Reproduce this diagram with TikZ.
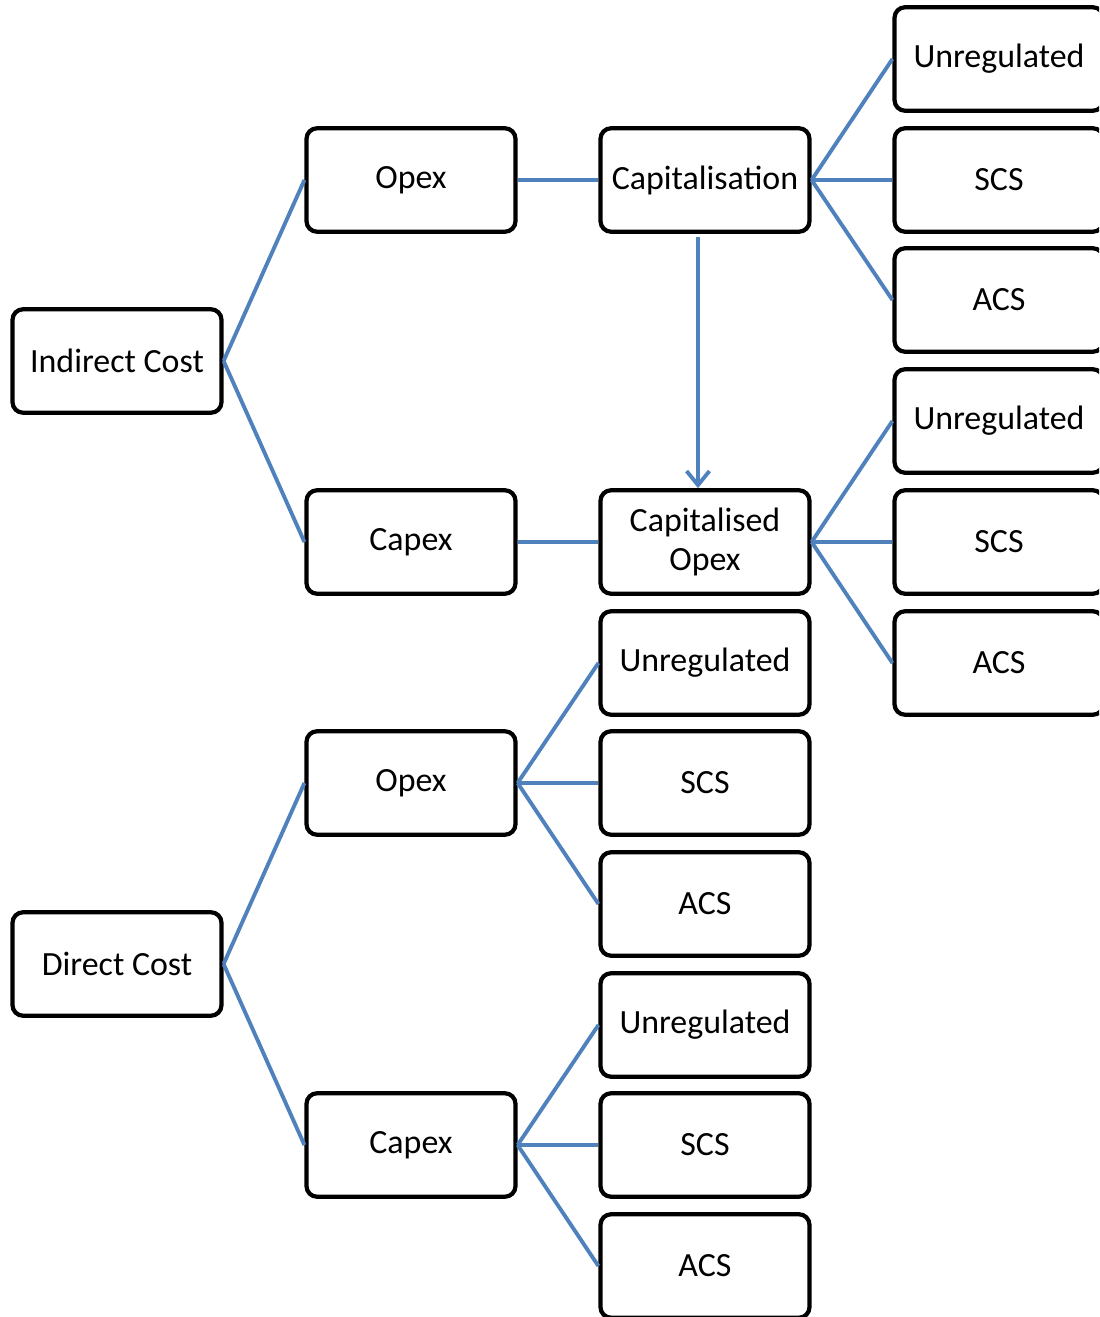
\documentclass[tikz,border=0pt]{standalone}
\usepackage{fontspec}
\setmainfont{Carlito}
\usetikzlibrary{arrows.meta}
\definecolor{link}{RGB}{79,129,189}
\begin{document}
\begin{tikzpicture}[x=0.02cm,y=-0.02cm,
  box/.style={draw=black,line width=2.4pt,rounded corners=6pt,fill=white,
    minimum width=4.18cm,minimum height=2.07cm,inner sep=0pt,align=center,
    font=\fontsize{19.3}{21.8}\selectfont},
  wire/.style={draw=link,line width=2.2pt}]
\useasboundingbox (0,0) rectangle (1099,1317);
\clip (0,0) rectangle (1099,1317);

% left column
\node[box] (ind) at (117,361) {Indirect Cost};
\node[box] (dir) at (117,964) {Direct Cost};

% second column
\node[box] (iopex) at (411,180) {Opex};
\node[box] (icapex) at (411,542) {Capex};
\node[box] (dopex) at (411,783) {Opex};
\node[box] (dcapex) at (411,1145) {Capex};

% third column
\node[box] (capn) at (705,180) {Capitalisation};
\node[box] (capop) at (705,542) {Capitalised\\Opex};
\node[box] (du1) at (705,663) {Unregulated};
\node[box] (ds1) at (705,783) {SCS};
\node[box] (da1) at (705,904) {ACS};
\node[box] (du2) at (705,1025) {Unregulated};
\node[box] (ds2) at (705,1145) {SCS};
\node[box] (da2) at (705,1266) {ACS};

% right column
\node[box] (ru1) at (999,59) {Unregulated};
\node[box] (rs1) at (999,180) {SCS};
\node[box] (ra1) at (999,300) {ACS};
\node[box] (ru2) at (999,421) {Unregulated};
\node[box] (rs2) at (999,542) {SCS};
\node[box] (ra2) at (999,663) {ACS};

% connectors
\foreach \a/\b in {ind/iopex,ind/icapex,dir/dopex,dir/dcapex,
    iopex/capn,icapex/capop,
    capn/ru1,capn/rs1,capn/ra1,capop/ru2,capop/rs2,capop/ra2,
    dopex/du1,dopex/ds1,dopex/da1,dcapex/du2,dcapex/ds2,dcapex/da2}
  \draw[wire] (\a.east) -- (\b.west);

\draw[wire,-{Straight Barb[length=8pt,width=13pt,line width=2.2pt]}]
  ([xshift=-0.14cm,yshift=-2pt]capn.south) -- ([xshift=-0.14cm]capop.north);
\end{tikzpicture}
\end{document}
